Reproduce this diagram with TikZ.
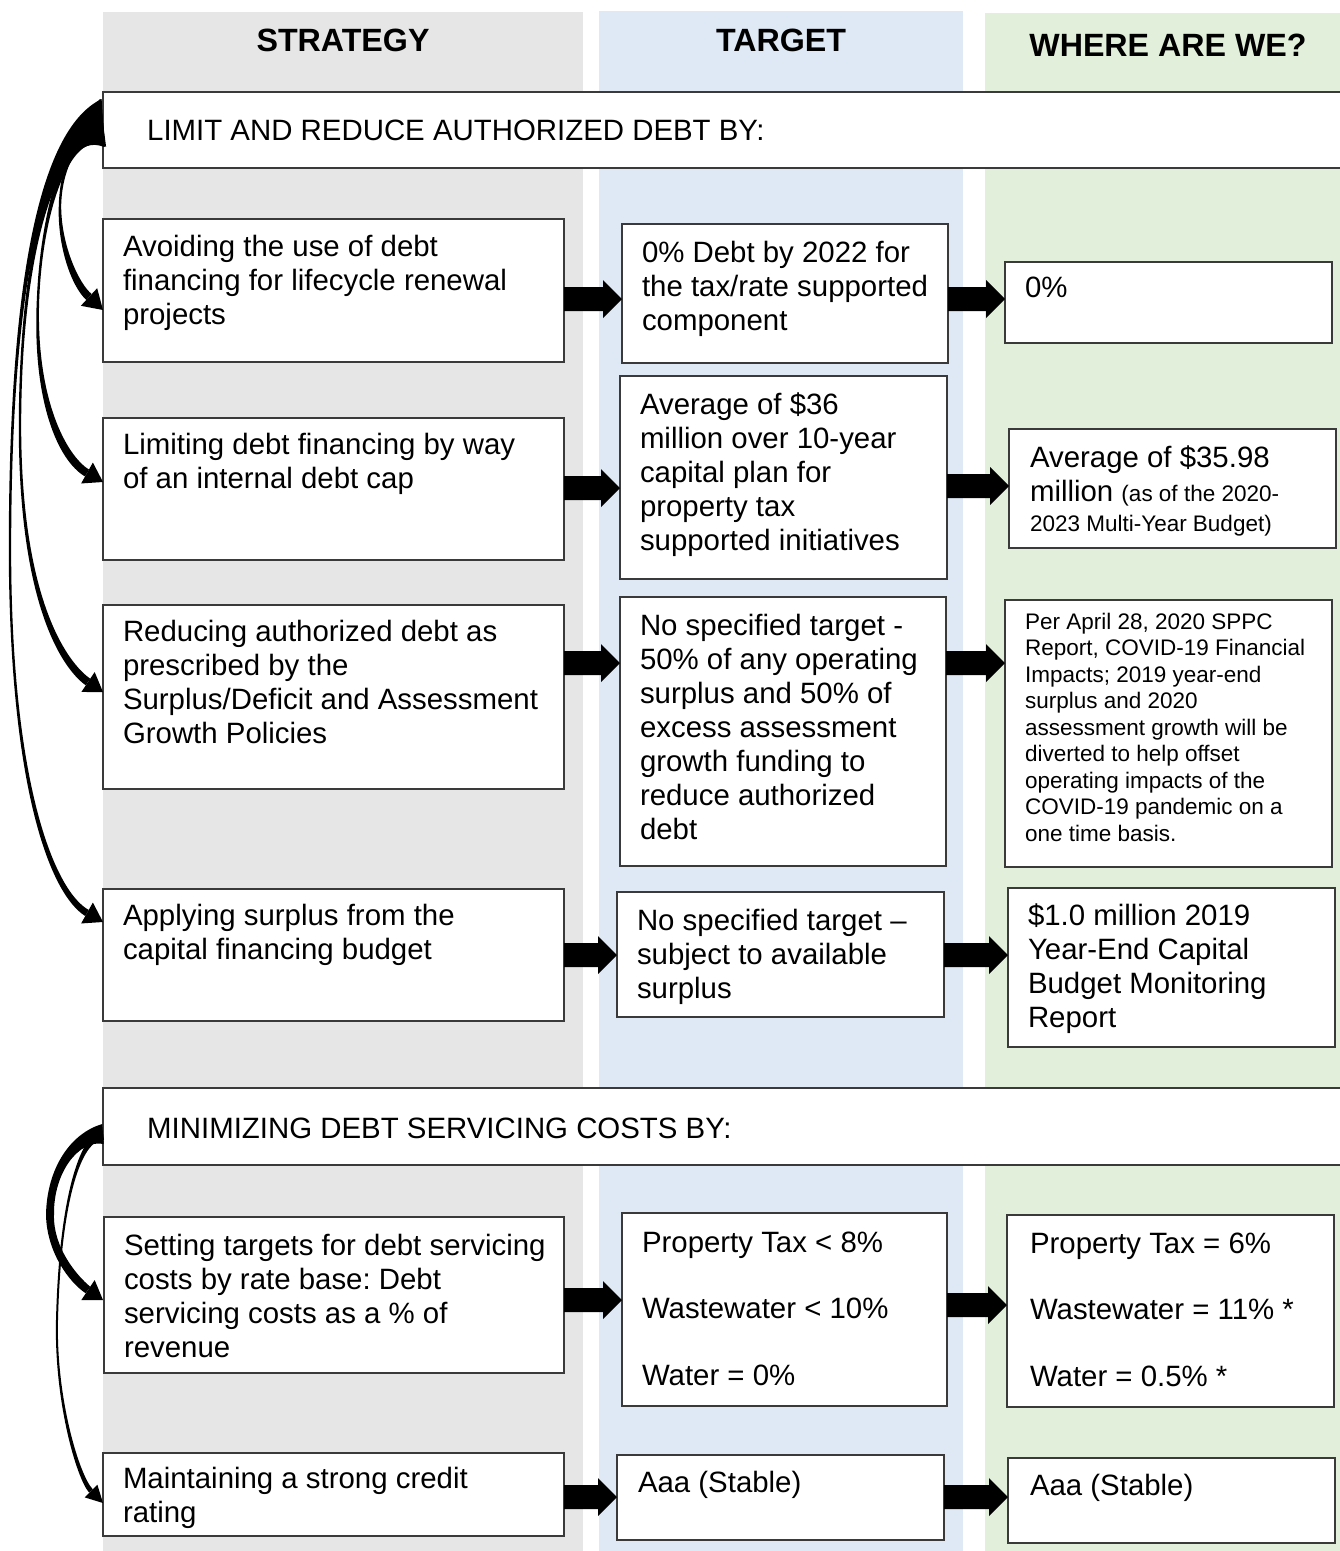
\documentclass[tikz,border=0pt]{standalone}
\usepackage{fontspec}
\setmainfont{Liberation Sans}
\usetikzlibrary{calc}
\frenchspacing
\definecolor{colgray}{HTML}{E6E6E6}
\definecolor{colblue}{HTML}{DEE9F5}
\definecolor{colgreen}{HTML}{E2EFDA}
\definecolor{boxline}{HTML}{3A3A3A}
% tapered curve piece: P0, C1, C2, P3, half widths w0 w1 w2 w3
\newcommand\tapseg[8]{%
  \fill[black] ($#1!#5!90:#2$) .. controls ($#2!#6!90:#3$) and ($#3!#7!-90:#2$) .. ($#4!#8!-90:#3$)
    -- ($#4!#8!90:#3$) .. controls ($#3!#7!90:#2$) and ($#2!#6!-90:#3$) .. ($#1!#5!-90:#2$) -- cycle;}
% arrow head: base centre, tip, half width
\newcommand\tiphead[3]{%
  \fill[black] ($#1!#3!90:#2$) -- #2 -- ($#1!#3!-90:#2$) -- cycle;}
% block arrow from node to node at height of a row coordinate
\newcommand\blkarr[3]{%
  \fill[black] ($(#1.east |- #3)+(0,-12)$) -- ($(#2.west |- #3)+(-19,-12)$)
    -- ($(#2.west |- #3)+(-19,-19)$) -- (#2.west |- #3)
    -- ($(#2.west |- #3)+(-19,19)$) -- ($(#2.west |- #3)+(-19,12)$)
    -- ($(#1.east |- #3)+(0,12)$) -- cycle;}
\begin{document}
\begin{tikzpicture}[x=1pt,y=-1pt,
  box/.style={draw=boxline, line width=1.3pt, fill=white, anchor=north west, inner sep=0pt, outer sep=0pt},
  txt/.style={anchor=north west, inner sep=0pt, outer sep=0pt, align=left, font=\fontsize{29.4}{34}\selectfont},
  smalltxt/.style={anchor=north west, inner sep=0pt, outer sep=0pt, align=left, font=\fontsize{22.5}{26.5}\selectfont},
  hdr/.style={anchor=base, inner sep=0pt, font=\fontsize{32.2}{38}\selectfont\bfseries},
  bannertxt/.style={anchor=base west, inner sep=0pt, font=\fontsize{29.4}{34}\selectfont}]
\useasboundingbox (0,0) rectangle (1340,1551);
% columns
\fill[colgray] (103,12) rectangle (583,1551);
\fill[colblue] (599,11) rectangle (963,1551);
\fill[colgreen] (985,13) rectangle (1345,1551);
% headers
\node[hdr] (h1) at (343,51.5) {STRATEGY};
\node[hdr] (h2) at (781,51.5) {TARGET};
\node[hdr] (h3) at (1168,56) {WHERE ARE WE?};
% banners
\node[box, minimum width=1250pt, minimum height=76pt] (b1) at (103,92) {};
\node[bannertxt] (b1t) at ([shift={(44,48.5)}]b1.north west) {LIMIT AND REDUCE AUTHORIZED DEBT BY:};
\node[box, minimum width=1250pt, minimum height=77pt] (b2) at (103,1088) {};
\node[bannertxt] (b2t) at ([shift={(44,50.5)}]b2.north west) {MINIMIZING DEBT SERVICING COSTS BY:};
% row 1
\node[box, minimum width=461pt, minimum height=143pt] (s1) at (103,219) {};
\node[txt] (s1t) at ([shift={(20,13.2)}]s1.north west) {\strut Avoiding the use of debt\\financing for lifecycle renewal\\projects};
\node[box, minimum width=326pt, minimum height=139pt] (t1) at (622,224) {};
\node[txt] (t1t) at ([shift={(20,14.2)}]t1.north west) {\strut 0\% Debt by 2022 for\\the tax/rate supported\\component};
\node[box, minimum width=327pt, minimum height=81pt] (w1) at (1005,262) {};
\node[txt] (w1t) at ([shift={(20,11.2)}]w1.north west) {\strut 0\%};
% row 2
\node[box, minimum width=461pt, minimum height=142pt] (s2) at (103,418) {};
\node[txt] (s2t) at ([shift={(20,12.2)}]s2.north west) {\strut Limiting debt financing by way\\of an internal debt cap};
\node[box, minimum width=327pt, minimum height=203pt] (t2) at (620,376) {};
\node[txt] (t2t) at ([shift={(20,14.2)}]t2.north west) {\strut Average of \$36\\million over 10-year\\capital plan for\\property tax\\supported initiatives};
\node[box, minimum width=327pt, minimum height=119pt] (w2) at (1009,429) {};
\node[txt] (w2t) at ([shift={(21,14.2)}]w2.north west) {\strut Average of \$35.98\\million {\fontsize{22.5}{27}\selectfont(as of the 2020-}\\[-4pt]{\fontsize{22.5}{27}\selectfont 2023 Multi-Year Budget)}};
% row 3
\node[box, minimum width=461pt, minimum height=184pt] (s3) at (103,605) {};
\node[txt] (s3t) at ([shift={(20,12.2)}]s3.north west) {\strut Reducing authorized debt as\\prescribed by the\\Surplus/Deficit and Assessment\\Growth Policies};
\node[box, minimum width=326pt, minimum height=269pt] (t3) at (620,597) {};
\node[txt] (t3t) at ([shift={(20,14.2)}]t3.north west) {\strut No specified target -\\50\% of any operating\\surplus and 50\% of\\excess assessment\\growth funding to\\reduce authorized\\debt};
\node[box, minimum width=327pt, minimum height=267pt] (w3) at (1005,600) {};
\node[smalltxt] (w3t) at ([shift={(20,10.5)}]w3.north west) {\strut Per April 28, 2020 SPPC\\Report, COVID-19 Financial\\Impacts; 2019 year-end\\surplus and 2020\\assessment growth will be\\diverted to help offset\\operating impacts of the\\COVID-19 pandemic on a\\one time basis.};
% row 4
\node[box, minimum width=461pt, minimum height=132pt] (s4) at (103,889) {};
\node[txt] (s4t) at ([shift={(20,12.2)}]s4.north west) {\strut Applying surplus from the\\capital financing budget};
\node[box, minimum width=327pt, minimum height=125pt] (t4) at (617,892) {};
\node[txt] (t4t) at ([shift={(20,14.2)}]t4.north west) {\strut No specified target –\\subject to available\\surplus};
\node[box, minimum width=327pt, minimum height=159pt] (w4) at (1008,888) {};
\node[txt] (w4t) at ([shift={(20,13.2)}]w4.north west) {\strut \$1.0 million 2019\\Year-End Capital\\Budget Monitoring\\Report};
% row 5
\node[box, minimum width=460pt, minimum height=156pt] (s5) at (104,1217) {};
\node[txt] (s5t) at ([shift={(20,14.2)}]s5.north west) {\strut Setting targets for debt servicing\\costs by rate base: Debt\\servicing costs as a \% of\\revenue};
\node[box, minimum width=325pt, minimum height=193pt] (t5) at (622,1213) {};
\node[txt] (t5t) at ([shift={(20,15.2)}]t5.north west) {\strut Property Tax < 8\%\\[32.5pt]Wastewater < 10\%\\[32.5pt]Water = 0\%};
\node[box, minimum width=327pt, minimum height=192pt] (w5) at (1007,1215) {};
\node[txt] (w5t) at ([shift={(23,14.2)}]w5.north west) {\strut Property Tax = 6\%\\[32.5pt]Wastewater = 11\% *\\[32.5pt]Water = 0.5\% *};
% row 6
\node[box, minimum width=461pt, minimum height=83pt] (s6) at (103,1453) {};
\node[txt] (s6t) at ([shift={(20,11.2)}]s6.north west) {\strut Maintaining a strong credit\\rating};
\node[box, minimum width=327pt, minimum height=85pt] (t6) at (617,1455) {};
\node[txt] (t6t) at ([shift={(21,13.2)}]t6.north west) {\strut Aaa (Stable)};
\node[box, minimum width=327pt, minimum height=85pt] (w6) at (1008,1458) {};
\node[txt] (w6t) at ([shift={(22,13.2)}]w6.north west) {\strut Aaa (Stable)};
% block arrows
\coordinate (r1) at (0,299);
\coordinate (r2a) at (0,488);
\coordinate (r2b) at (0,486);
\coordinate (r3) at (0,663);
\coordinate (r4) at (0,955);
\coordinate (r5a) at (0,1300);
\coordinate (r5b) at (0,1305);
\coordinate (r6) at (0,1497);
\blkarr{s1}{t1}{r1}
\blkarr{t1}{w1}{r1}
\blkarr{s2}{t2}{r2a}
\blkarr{t2}{w2}{r2b}
\blkarr{s3}{t3}{r3}
\blkarr{t3}{w3}{r3}
\blkarr{s4}{t4}{r4}
\blkarr{t4}{w4}{r4}
\blkarr{s5}{t5}{r5a}
\blkarr{t5}{w5}{r5b}
\blkarr{s6}{t6}{r6}
\blkarr{t6}{w6}{r6}
% curved arrows from banner 1
\coordinate (k0) at ([shift={(0,31)}]b1.north west);
\coordinate (k1) at ([shift={(0,91)}]s1.north west);
\coordinate (k2) at ([shift={(0,64)}]s2.north west);
\coordinate (k3) at ([shift={(0,87)}]s3.north west);
\coordinate (k4) at ([shift={(0,33)}]s4.north west);
\tapseg{(k0)}{(80,126)}{(61,165)}{(60,205)}{24pt}{3pt}{1.2pt}{1.2pt}
\tapseg{(60,205)}{(59,245)}{(75,285)}{(89,297)}{1.2pt}{2pt}{4pt}{4pt}
\tiphead{(89,297)}{(k1)}{12pt}
\tapseg{(k0)}{(72,126)}{(42,200)}{(38,300)}{24pt}{3pt}{1.2pt}{1.2pt}
\tapseg{(38,300)}{(34,400)}{(62,458)}{(87,473)}{1.2pt}{2pt}{5pt}{4pt}
\tiphead{(87,473)}{(k2)}{12pt}
\tapseg{(k0)}{(62,126)}{(21,230)}{(20,420)}{24pt}{3pt}{1.2pt}{1.2pt}
\tapseg{(20,420)}{(19,600)}{(64,665)}{(88,682)}{1.2pt}{1.5pt}{4pt}{4pt}
\tiphead{(88,682)}{(k3)}{12pt}
\tapseg{(k0)}{(50,126)}{(9,250)}{(10,560)}{24pt}{3pt}{1.2pt}{1.2pt}
\tapseg{(10,560)}{(11.5,790)}{(53,893)}{(87,913)}{1.2pt}{1pt}{3pt}{3.5pt}
\tiphead{(87,913)}{(k4)}{12pt}
% curved arrows from banner 2
\coordinate (m0) at ([shift={(0,46)}]b2.north west);
\coordinate (m1) at ([shift={(-1,83)}]s5.north west);
\coordinate (m2) at ([shift={(0,50)}]s6.north west);
\tapseg{(m0)}{(75,1136)}{(50,1170)}{(50,1215)}{10pt}{5pt}{4pt}{4pt}
\tapseg{(50,1215)}{(50,1250)}{(73,1279)}{(88,1290)}{4pt}{4pt}{5pt}{4pt}
\tiphead{(88,1290)}{(m1)}{12pt}
\tapseg{(m0)}{(80,1138)}{(60,1200)}{(57,1320)}{6pt}{1.5pt}{1pt}{1pt}
\tapseg{(57,1320)}{(55,1400)}{(78,1477)}{(91,1491)}{1pt}{1pt}{2pt}{2.5pt}
\tiphead{(91,1491)}{(m2)}{9pt}
\end{tikzpicture}
\end{document}
